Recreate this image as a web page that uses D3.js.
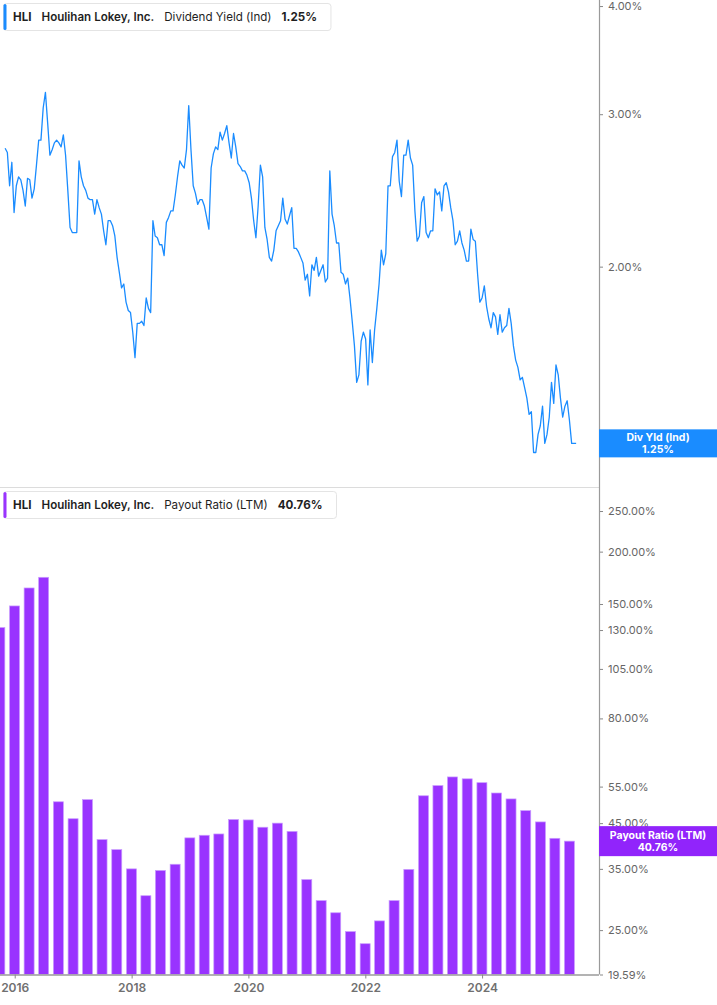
<!DOCTYPE html>
<html>
<head>
<meta charset="utf-8">
<script src="https://cdn.jsdelivr.net/npm/d3@7"></script>
<style>
  body { margin: 0; background: #fff; font-family: Inter, "Open Sans", sans-serif; }
  svg { display: block; }
</style>
</head>
<body>
<svg id="chart" width="717" height="1005"></svg>
<script>
const ticker = "HLI";
const company = "Houlihan Lokey, Inc.";

// dividend yield (%), every 14 days
const yieldStart = "2015-11-02";
const yieldStepDays = 14;
const yieldValues = [
  2.74,2.71,2.48,2.64,2.31,2.48,2.54,2.52,2.45,2.35,2.53,2.52,2.40,2.46,2.62,2.80,2.80,3.05,3.18,2.93,
  2.69,2.73,2.78,2.80,2.78,2.75,2.84,2.69,2.45,2.22,2.19,2.19,2.19,2.65,2.54,2.48,2.45,2.40,2.39,2.39,
  2.30,2.39,2.34,2.30,2.20,2.12,2.26,2.26,2.23,2.17,2.05,1.97,1.89,1.91,1.82,1.78,1.77,1.68,1.57,1.72,
  1.72,1.73,1.71,1.84,1.79,1.77,2.26,2.17,2.16,2.12,2.12,2.06,2.25,2.28,2.32,2.32,2.42,2.54,2.65,2.62,
  2.60,2.73,3.07,2.73,2.48,2.43,2.36,2.39,2.39,2.35,2.28,2.21,2.60,2.70,2.75,2.73,2.86,2.80,2.85,2.91,
  2.78,2.67,2.85,2.75,2.63,2.61,2.58,2.58,2.55,2.50,2.40,2.26,2.16,2.35,2.62,2.54,2.22,2.15,2.05,2.03,
  2.09,2.20,2.23,2.26,2.40,2.27,2.24,2.29,2.34,2.10,2.10,2.08,2.05,2.02,1.93,1.96,1.85,2.01,1.98,2.05,
  1.95,1.98,2.01,1.92,1.94,2.58,2.30,2.23,2.13,2.13,1.97,1.96,1.91,1.94,1.84,1.73,1.62,1.47,1.50,1.64,
  1.68,1.65,1.46,1.69,1.55,1.69,1.79,1.91,2.09,2.01,2.07,2.48,2.48,2.68,2.71,2.80,2.51,2.41,2.69,2.69,
  2.80,2.67,2.62,2.32,2.14,2.17,2.37,2.41,2.19,2.16,2.20,2.20,2.46,2.42,2.44,2.32,2.48,2.50,2.44,2.34,
  2.26,2.12,2.14,2.20,2.13,2.09,2.03,2.03,2.21,2.15,2.14,1.96,1.82,1.84,1.90,1.80,1.74,1.70,1.77,1.75,
  1.67,1.76,1.68,1.70,1.71,1.79,1.72,1.62,1.56,1.53,1.48,1.49,1.45,1.41,1.35,1.36,1.22,1.22,1.28,1.31,
  1.38,1.25,1.28,1.34,1.47,1.39,1.54,1.50,1.41,1.34,1.38,1.40,1.33,1.25,1.25,1.25
];
const yieldTicks = [2, 3, 4];
const yieldLast = 1.25;

// payout ratio (LTM, %), quarterly
const payoutQuarters = [
  "2015-09-30","2015-12-31","2016-03-31","2016-06-30","2016-09-30","2016-12-31","2017-03-31","2017-06-30",
  "2017-09-30","2017-12-31","2018-03-31","2018-06-30","2018-09-30","2018-12-31","2019-03-31","2019-06-30",
  "2019-09-30","2019-12-31","2020-03-31","2020-06-30","2020-09-30","2020-12-31","2021-03-31","2021-06-30",
  "2021-09-30","2021-12-31","2022-03-31","2022-06-30","2022-09-30","2022-12-31","2023-03-31","2023-06-30",
  "2023-09-30","2023-12-31","2024-03-31","2024-06-30","2024-09-30","2024-12-31","2025-03-31","2025-06-30"
];
const payoutValues = [
  131.8,148.4,163.8,173.7,50.6,46.1,51.2,41.1,38.9,35.0,30.2,34.7,35.9,41.5,42.1,42.4,45.9,45.8,44.0,45.0,
  43.0,33.0,29.4,27.5,24.8,23.2,26.3,29.4,34.9,52.3,55.3,58.0,57.4,56.2,53.1,51.4,48.2,45.3,41.4,40.76
];
const payoutTicks = [19.59, 25, 35, 45, 55, 80, 105, 130, 150, 200, 250];
const payoutLast = 40.76;

const yearTicks = ["2016", "2018", "2020", "2022", "2024"];

const blue = "#1a8cff", purple = "#9933ff";
const plotRight = 599;
const topBottom = 487, botTop = 488, botBottom = 974.5;

const parse = d3.timeParse("%Y-%m-%d");
const svg = d3.select("#chart");

const x = d3.scaleTime()
  .domain([parse("2015-10-01"), parse("2026-01-01")])
  .range([0, plotRight]);
const yTop = d3.scaleLog().domain([1.113, 4.065]).range([topBottom, 0]);
const yBot = d3.scaleLog().domain([19.59, 283.7]).range([botBottom, botTop]);

const defs = svg.append("defs");
defs.append("clipPath").attr("id", "clipTop")
  .append("rect").attr("x", 0).attr("y", 0).attr("width", plotRight).attr("height", topBottom);
defs.append("clipPath").attr("id", "clipBot")
  .append("rect").attr("x", 0).attr("y", botTop).attr("width", plotRight).attr("height", botBottom - botTop);

// panel separator
svg.append("line")
  .attr("x1", 0).attr("x2", plotRight).attr("y1", topBottom + 0.5).attr("y2", topBottom + 0.5)
  .attr("stroke", "#dcdcdc");

// dividend yield line
const yieldData = yieldValues.map((v, i) => ({
  date: d3.timeDay.offset(parse(yieldStart), i * yieldStepDays),
  value: v
}));
svg.append("path")
  .datum(yieldData)
  .attr("clip-path", "url(#clipTop)")
  .attr("fill", "none")
  .attr("stroke", blue)
  .attr("stroke-width", 1.3)
  .attr("stroke-linejoin", "round")
  .attr("d", d3.line().x(d => x(d.date)).y(d => yTop(d.value)));

// payout ratio bars
const payoutData = payoutQuarters.map((q, i) => ({ date: parse(q), value: payoutValues[i] }));
const barW = 10;
svg.append("g").attr("clip-path", "url(#clipBot)")
  .selectAll("rect")
  .data(payoutData)
  .enter()
  .append("rect")
  .attr("x", d => x(d.date) - barW / 2)
  .attr("y", d => yBot(d.value))
  .attr("width", barW)
  .attr("height", d => botBottom - yBot(d.value))
  .attr("fill", purple)
  .attr("stroke", "#c99cff")
  .attr("stroke-width", 0.7);

// right axis line
svg.append("line")
  .attr("x1", plotRight + 0.5).attr("x2", plotRight + 0.5).attr("y1", 0).attr("y2", botBottom)
  .attr("stroke", "#9a9a9a").attr("stroke-width", 1.2);

const pctFmt = v => v.toFixed(2) + "%";

function styleAxis(g) {
  g.select(".domain").remove();
  g.selectAll(".tick line").attr("stroke", "#888");
  g.selectAll(".tick text")
    .attr("fill", "#666")
    .style("font-family", "Inter, sans-serif")
    .style("font-size", "11px");
}

svg.append("g")
  .attr("transform", `translate(${plotRight + 1},0)`)
  .call(d3.axisRight(yTop).tickValues(yieldTicks).tickFormat(pctFmt).tickSize(3).tickPadding(5))
  .call(styleAxis);

svg.append("g")
  .attr("transform", `translate(${plotRight + 1},0)`)
  .call(d3.axisRight(yBot).tickValues(payoutTicks).tickFormat(pctFmt).tickSize(3).tickPadding(5))
  .call(styleAxis);

const xAxis = svg.append("g")
  .attr("transform", `translate(0,${botBottom})`)
  .call(d3.axisBottom(x)
    .tickValues(yearTicks.map(y => parse(y + "-01-01")))
    .tickFormat(d3.timeFormat("%Y"))
    .tickSize(4).tickPadding(5));
xAxis.select(".domain")
  .attr("d", `M0,0.5H${plotRight}`)
  .attr("stroke", "#9a9a9a").attr("stroke-width", 1.5);
xAxis.selectAll(".tick line").attr("stroke", "#888");
xAxis.selectAll(".tick text")
  .attr("fill", "#707070")
  .style("font-family", "Inter, sans-serif")
  .style("font-size", "12px")
  .style("font-weight", "600");

// last value tags on the axis
function valueTag(yPos, h, color, line1, line2) {
  const g = svg.append("g");
  g.append("rect")
    .attr("x", plotRight).attr("y", yPos - h / 2)
    .attr("width", 717 - plotRight).attr("height", h)
    .attr("fill", color);
  const cx = plotRight + (717 - plotRight) / 2;
  [line1, line2].forEach((t, i) => {
    g.append("text")
      .attr("x", cx).attr("y", yPos - 2 + i * 12)
      .attr("text-anchor", "middle")
      .attr("fill", "#fff")
      .style("font-family", "Inter, sans-serif")
      .style("font-size", "10.5px")
      .style("font-weight", "700")
      .text(t);
  });
}
valueTag(yTop(yieldLast), 28, blue, "Div Yld (Ind)", pctFmt(yieldLast));
valueTag(yBot(payoutLast), 30, "#9124fb", "Payout Ratio (LTM)", pctFmt(payoutLast));

// legends
function legend(top, color, metric, last) {
  const g = svg.append("g");
  const box = g.append("rect")
    .attr("x", 3.5).attr("y", top + 0.5).attr("height", 27).attr("rx", 3)
    .attr("fill", "#fff").attr("stroke", "#e4e4e4");
  g.append("rect")
    .attr("x", 3.5).attr("y", top + 1).attr("width", 3).attr("height", 26).attr("rx", 1.5)
    .attr("fill", color);
  const parts = [
    { t: ticker, w: 700 },
    { t: company, w: 600 },
    { t: metric, w: 400 },
    { t: last, w: 700 }
  ];
  let cx = 13;
  parts.forEach(p => {
    const txt = g.append("text")
      .attr("x", cx).attr("y", top + 18)
      .attr("fill", "#1f1f1f")
      .style("font-family", "Inter, sans-serif")
      .style("font-size", "11.6px")
      .style("font-weight", p.w)
      .text(p.t);
    cx += txt.node().getComputedTextLength() + 10;
  });
  box.attr("width", cx + 4 - 3.5);
}
legend(3, blue, "Dividend Yield (Ind)", pctFmt(yieldLast));
legend(491, purple, "Payout Ratio (LTM)", pctFmt(payoutLast));
</script>
</body>
</html>
